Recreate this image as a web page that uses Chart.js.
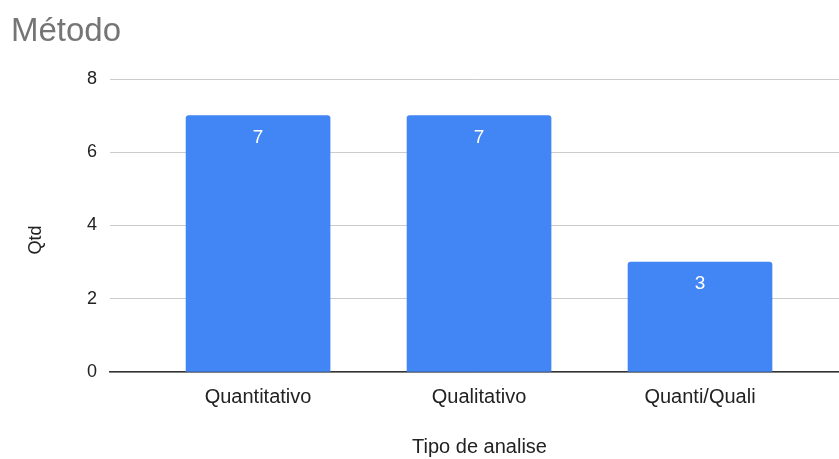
<!DOCTYPE html>
<html>
<head>
<meta charset="utf-8">
<script src="https://cdn.jsdelivr.net/npm/chart.js@4"></script>
<style>
  html, body { margin: 0; padding: 0; background: #fff; }
  #wrap { width: 839px; height: 459px; position: relative; }
</style>
</head>
<body>
<div id="wrap"><canvas id="c" width="839" height="459"></canvas></div>
<script>
// Data
const categories = ['Quantitativo', 'Qualitativo', 'Quanti/Quali'];
const qtd = [7, 7, 3];
const yTicks = [0, 2, 4, 6, 8];

const FONT = '"Liberation Sans", Arial, sans-serif';

// Bars live on a linear x axis so the category slots can be positioned freely
const points = qtd.map((v, i) => ({ x: i, y: v }));

// Chart title, axis titles and value labels
const textPlugin = {
  id: 'texts',
  afterDatasetsDraw(chart) {
    const ctx = chart.ctx;
    const area = chart.chartArea;
    ctx.save();
    // value labels inside the bars
    ctx.fillStyle = '#ffffff';
    ctx.font = '19px ' + FONT;
    ctx.textAlign = 'center';
    ctx.textBaseline = 'middle';
    chart.getDatasetMeta(0).data.forEach((bar, i) => {
      ctx.fillText(String(qtd[i]), bar.x, bar.y + 22);
    });
    // title
    ctx.fillStyle = '#757575';
    ctx.font = '33px ' + FONT;
    ctx.textAlign = 'left';
    ctx.textBaseline = 'alphabetic';
    ctx.fillText('Método', 11, 41);
    // x axis title
    ctx.fillStyle = '#222222';
    ctx.font = '20px ' + FONT;
    ctx.textAlign = 'center';
    ctx.textBaseline = 'middle';
    ctx.fillText('Tipo de analise', (area.left + area.right) / 2 + 5, 447);
    // y axis title
    ctx.font = '18px ' + FONT;
    ctx.translate(36, 240);
    ctx.rotate(-Math.PI / 2);
    ctx.fillText('Qtd', 0, 0);
    ctx.restore();
  }
};

new Chart(document.getElementById('c'), {
  type: 'bar',
  data: {
    datasets: [{
      data: points,
      backgroundColor: '#4285F4',
      borderRadius: { topLeft: 3, topRight: 3, bottomLeft: 0, bottomRight: 0 },
      borderSkipped: 'bottom',
      barThickness: 144
    }]
  },
  options: {
    responsive: false,
    animation: false,
    layout: { padding: { top: 79, right: 0, bottom: 0, left: 0 } },
    plugins: {
      legend: { display: false },
      tooltip: { enabled: false }
    },
    scales: {
      x: {
        type: 'linear',
        offset: false,
        min: -0.67,
        max: 2.629,
        afterFit(scale) { scale.height = 87; },
        afterBuildTicks(scale) {
          scale.ticks = categories.map((_, i) => ({ value: i }));
        },
        ticks: {
          autoSkip: false,
          maxRotation: 0,
          padding: 13,
          color: '#222222',
          font: { family: FONT, size: 20 },
          callback: (v) => categories[v] ?? ''
        },
        grid: { display: false, drawTicks: false, offset: false },
        border: { display: true, color: '#333333', width: 1.5 }
      },
      y: {
        min: 0,
        max: 8,
        afterFit(scale) { scale.width = 110; },
        afterBuildTicks(scale) {
          scale.ticks = yTicks.map(v => ({ value: v }));
        },
        ticks: {
          padding: 13,
          color: '#222222',
          font: { family: FONT, size: 18 }
        },
        grid: {
          color: '#cccccc',
          lineWidth: 1,
          drawTicks: false
        },
        border: { display: false }
      }
    }
  },
  plugins: [textPlugin]
});
</script>
</body>
</html>
